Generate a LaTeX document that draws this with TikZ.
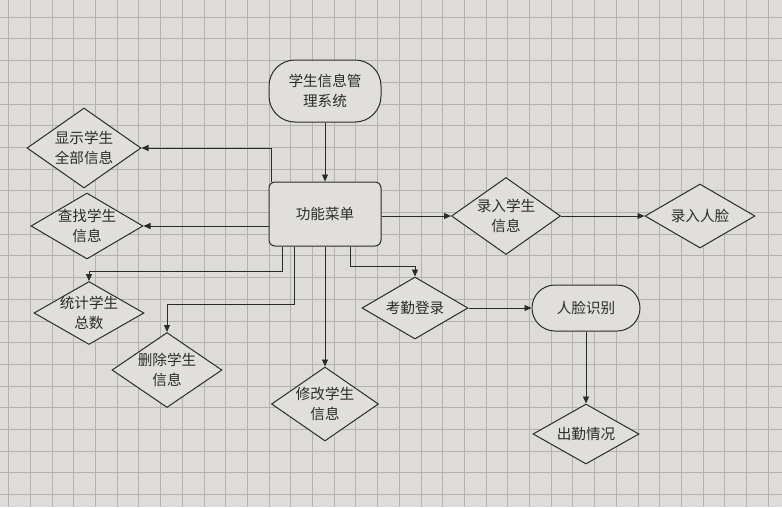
\documentclass[tikz,border=0pt]{standalone}
\usepackage{fontspec}
\usepackage{xcolor}
\usepackage{tikz}
\usetikzlibrary{arrows.meta,positioning,calc,shapes.geometric}
\newfontfamily\cjk{Noto Sans CJK SC}
\definecolor{ScreenGray}{HTML}{DDDCD8}
\definecolor{GridGray}{HTML}{B4B2AE}
\definecolor{InkGray}{HTML}{2B2B2B}
\definecolor{ShapeFill}{HTML}{E0DFDC}

\begin{document}
\begin{tikzpicture}[x=1pt,y=-1pt,
  every node/.style={font=\cjk\fontsize{14.6}{20}\selectfont,text=InkGray,align=center},
  box/.style={draw=InkGray,line width=1pt,fill=ShapeFill},
  judge/.style={box,shape=diamond,inner sep=-12pt},
  flow/.style={draw=InkGray,line width=0.9pt,-{Triangle[length=7pt,width=6pt]}}]
\useasboundingbox (0,0) rectangle (782,507);
\fill[ScreenGray] (0,0) rectangle (782,507);
\draw[GridGray,line width=0.5pt,step=21.7pt,shift={(8.5,17)}] (-8.5,-17) grid (773.5,490);

\node[box,rounded corners=26pt,minimum width=112pt,minimum height=62pt] (sys) at (325,91) {学生信息管\\理系统};
\node[box,rounded corners=6pt,minimum width=112pt,minimum height=64pt,below=59pt of sys] (menu) {功能菜单};

\node[judge,minimum width=114pt,minimum height=80pt] (xianshi) at (84,148) {显示学生\\全部信息};
\node[judge,minimum width=112pt,minimum height=66pt] (chazhao) at (87,226) {查找学生\\信息};
\node[judge,minimum width=110pt,minimum height=63pt] (tongji) at (89,313) {统计学生\\总数};
\node[judge,minimum width=110pt,minimum height=75pt] (shanchu) at (167,370) {删除学生\\信息};
\node[judge,minimum width=107pt,minimum height=74pt,below=120pt of menu] (xiugai) {修改学生\\信息};
\node[judge,minimum width=106pt,minimum height=62pt] (kaoqin) at (415,308) {考勤登录};
\node[box,rounded corners=23pt,minimum width=108pt,minimum height=46pt] (renlian) at (586,308) {人脸识别};
\node[judge,minimum width=106pt,minimum height=60pt] (chuqin) at (586,434) {出勤情况};
\node[judge,minimum width=109pt,minimum height=77pt] (luru) at (506,216) {录入学生\\信息};
\node[judge,minimum width=110pt,minimum height=64pt] (lianluru) at (700,216) {录入人脸};

\draw[flow] (sys) -- (menu);
\draw[flow] ([xshift=3pt]menu.north west) |- (xianshi.east);
\draw[flow] (menu.west |- chazhao.east) -- (chazhao.east);
\draw[flow] ([xshift=14pt]menu.south west) -- ++(0,25) -| (tongji.north);
\draw[flow] ([xshift=26pt]menu.south west) -- ++(0,58) -| (shanchu.north);
\draw[flow] (menu) -- (xiugai);
\draw[flow] ([xshift=-31pt]menu.south east) -- ++(0,20) -| (kaoqin.north);
\draw[flow] (menu.east |- luru.west) -- (luru.west);
\draw[flow] (luru) -- (lianluru);
\draw[flow] (kaoqin) -- (renlian);
\draw[flow] (renlian) -- (chuqin);
\end{tikzpicture}
\end{document}
